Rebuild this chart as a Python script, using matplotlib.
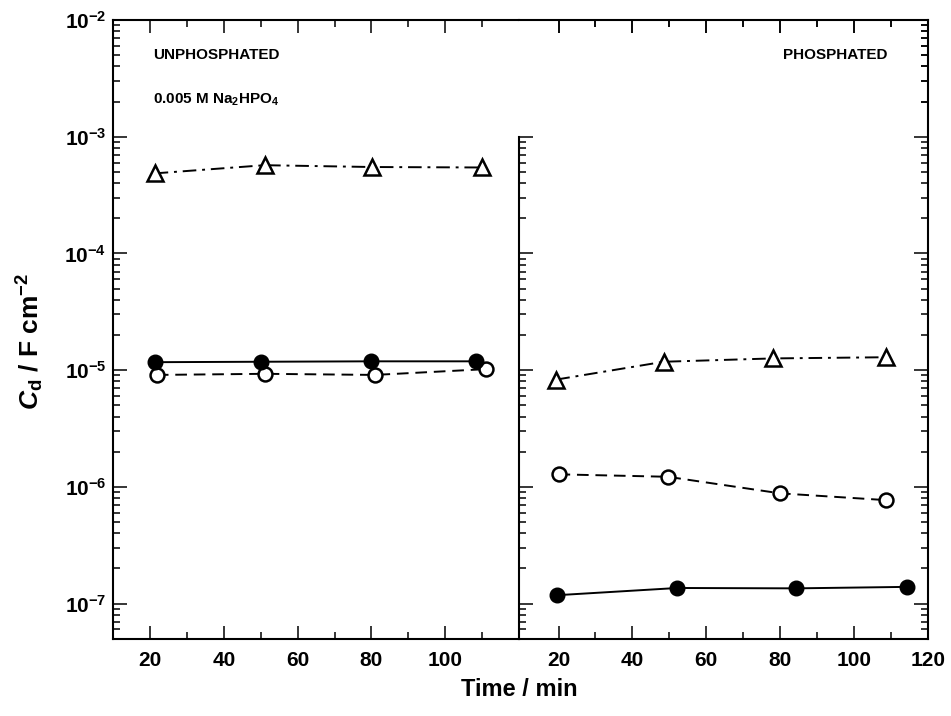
import numpy as np
import matplotlib
matplotlib.use('Agg')
import matplotlib.pyplot as plt
from matplotlib.ticker import FixedLocator, LogFormatterMathtext, NullFormatter

plt.rcParams['font.family'] = 'Liberation Sans'
plt.rcParams['font.weight'] = 'bold'
plt.rcParams['mathtext.fontset'] = 'custom'
plt.rcParams['mathtext.rm'] = 'Liberation Sans:bold'
plt.rcParams['mathtext.it'] = 'Liberation Sans:italic:bold'
plt.rcParams['mathtext.default'] = 'regular'

# unphosphated (left panel)
unp_time_filled = [21.2, 50.1, 80.0, 108.3]
unp_cd_filled = [1.17e-5, 1.18e-5, 1.19e-5, 1.19e-5]
unp_time_open = [21.8, 51.0, 80.9, 111.0]
unp_cd_open = [9.1e-6, 9.3e-6, 9.1e-6, 1.02e-5]
unp_time_tri = [21.2, 51.0, 80.2, 109.9]
unp_cd_tri = [4.85e-4, 5.7e-4, 5.5e-4, 5.45e-4]

# phosphated (right panel)
pho_time_filled = [19.7, 52.2, 84.3, 114.4]
pho_cd_filled = [1.18e-7, 1.36e-7, 1.35e-7, 1.39e-7]
pho_time_open = [20.0, 49.6, 80.0, 108.6]
pho_cd_open = [1.28e-6, 1.22e-6, 8.8e-7, 7.7e-7]
pho_time_tri = [19.4, 48.5, 78.0, 108.8]
pho_cd_tri = [8.3e-6, 1.18e-5, 1.26e-5, 1.29e-5]

left_xticks = [20, 40, 60, 80, 100]
right_xticks = [20, 40, 60, 80, 100, 120]
minor_xticks = [30, 50, 70, 90, 110]

W, H = 951, 716
fig = plt.figure(figsize=(W / 100, H / 100), dpi=100)
bot = 1 - 638.7 / H
top = 1 - 20 / H
xdiv = 519
ax1 = fig.add_axes([113.3 / W, bot, (xdiv - 113.3) / W, top - bot])
ax2 = fig.add_axes([xdiv / W, bot, (927.7 - xdiv) / W, top - bot])
# narrow helper axes that only carries the divider and its ticks
axd = fig.add_axes([xdiv / W, bot, 20 / W, top - bot])

ylo, yhi = 5e-8, 1e-2
lw = 1.4


def draw_series(ax, t_f, c_f, t_o, c_o, t_t, c_t):
    ax.plot(t_t, c_t, color='black', lw=lw, ls=(0, (7, 3, 1.5, 3)), marker='^',
            ms=11, mfc='white', mec='black', mew=1.8, zorder=3)
    ax.plot(t_o, c_o, color='black', lw=lw, ls=(0, (6, 3.5)), marker='o',
            ms=10, mfc='white', mec='black', mew=1.8, zorder=3)
    ax.plot(t_f, c_f, color='black', lw=lw, ls='-', marker='o',
            ms=10.5, mfc='black', mec='black', zorder=4)


draw_series(ax1, unp_time_filled, unp_cd_filled, unp_time_open, unp_cd_open,
            unp_time_tri, unp_cd_tri)
draw_series(ax2, pho_time_filled, pho_cd_filled, pho_time_open, pho_cd_open,
            pho_time_tri, pho_cd_tri)

major_y = [10.0 ** k for k in range(-7, -1)]
minor_y = [m * 10.0 ** k for k in range(-8, -2) for m in range(2, 10)]

for ax in (ax1, ax2, axd):
    ax.set_yscale('log')
    ax.set_ylim(ylo, yhi)
    ax.yaxis.set_major_formatter(NullFormatter())
    ax.yaxis.set_minor_formatter(NullFormatter())
    for s in ax.spines.values():
        s.set_linewidth(1.5)

ax1.set_xlim(10, 120)
ax2.set_xlim(9.3, 120)
ax1.xaxis.set_major_locator(FixedLocator(left_xticks))
ax2.xaxis.set_major_locator(FixedLocator(right_xticks))
for ax in (ax1, ax2):
    ax.xaxis.set_minor_locator(FixedLocator(minor_xticks))
    ax.xaxis.set_ticks_position('both')
    ax.tick_params(axis='x', which='both', direction='in', width=1.1, labelsize=15)
    ax.tick_params(axis='x', which='major', length=9.5, pad=9)
    ax.tick_params(axis='x', which='minor', length=5)

# left panel: y ticks and labels on the left
ax1.spines['right'].set_visible(False)
ax1.yaxis.set_major_locator(FixedLocator(major_y))
ax1.yaxis.set_minor_locator(FixedLocator(minor_y))
ax1.yaxis.set_major_formatter(LogFormatterMathtext())
ax1.yaxis.set_ticks_position('left')

# right panel: ticks on the outer right edge only
ax2.spines['left'].set_visible(False)
ax2.yaxis.set_major_locator(FixedLocator(major_y + [1e-2]))
ax2.yaxis.set_minor_locator(FixedLocator(minor_y + [m * 1e-3 for m in range(2, 10)]))
ax2.yaxis.set_ticks_position('right')
ax2.tick_params(axis='y', which='both', labelright=False)

# divider between the panels, from the bottom up to 1e-3
axd.patch.set_visible(False)
axd.xaxis.set_visible(False)
for side in ('right', 'top', 'bottom'):
    axd.spines[side].set_visible(False)
axd.spines['left'].set_bounds(ylo, 1e-3)
axd.yaxis.set_major_locator(FixedLocator([v for v in major_y if v <= 1e-3]))
axd.yaxis.set_minor_locator(FixedLocator([v for v in minor_y if v < 1e-3]))
axd.yaxis.set_ticks_position('left')
axd.tick_params(axis='y', which='both', labelleft=False)

for ax in (ax1, ax2, axd):
    ax.tick_params(axis='y', which='both', direction='in', width=1.1, labelsize=15)
    ax.tick_params(axis='y', which='major', length=10, pad=5)
    ax.tick_params(axis='y', which='minor', length=5)

# top-edge ticks of the right panel drawn as tick markers along the top spine
top_tr = ax2.get_xaxis_transform()
ax2.plot(right_xticks, np.ones(len(right_xticks)), ls='none', marker=3, ms=9.5,
         mew=1.1, color='black', transform=top_tr, clip_on=False, zorder=6)
ax2.plot(minor_xticks, np.ones(len(minor_xticks)), ls='none', marker=3, ms=5,
         mew=1.1, color='black', transform=top_tr, clip_on=False, zorder=6)

fig.text(153 / W, 1 - 55 / H, 'UNPHOSPHATED', fontsize=11, ha='left', va='center')
fig.text(153 / W, 1 - 100 / H, r'0.005 M Na$_2$HPO$_4$', fontsize=11, ha='left', va='center')
fig.text(887 / W, 1 - 55 / H, 'PHOSPHATED', fontsize=11, ha='right', va='center')

fig.text(xdiv / W, 1 - 690 / H, 'Time / min', fontsize=17, ha='center', va='center')
fig.text(30 / W, 1 - 341 / H, r'$\mathit{C}_{d}$ / F cm$^{-2}$', fontsize=19,
         rotation=90, ha='center', va='center')

fig.savefig('out.png', dpi=100)
